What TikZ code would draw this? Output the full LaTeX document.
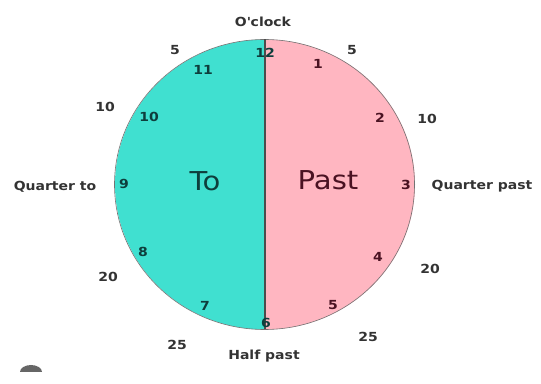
\documentclass[tikz,border=0pt]{standalone}
\usepackage{fontspec}
\setmainfont{DejaVu Sans}[FakeStretch=1.12]
\begin{document}
\begin{tikzpicture}[x=1pt,y=1pt,
  outer/.style={font=\bfseries\fontsize{12.5}{14}\selectfont, text=black!80},
  numL/.style={font=\bfseries\fontsize{12.5}{14}\selectfont, text=tealtext},
  numR/.style={font=\bfseries\fontsize{12.5}{14}\selectfont, text=pinktext},
  big/.style={font=\fontsize{26}{30}\selectfont}]
\definecolor{turq}{HTML}{40E0D0}
\definecolor{pinkfill}{HTML}{FFB6C1}
\definecolor{tealtext}{HTML}{0E3E3C}
\definecolor{pinktext}{HTML}{4A1222}
\useasboundingbox (0,0) rectangle (541,383);
\fill[white] (0,0) rectangle (541,383);
% halves
\coordinate (c) at (264.5,198.5);
\coordinate (top) at (265,343.5);
\coordinate (bot) at (265,53.5);
\fill[turq] (top) arc[start angle=90, end angle=270, x radius=150, y radius=145] -- cycle;
\fill[pinkfill] (top) arc[start angle=90, end angle=-90, x radius=150, y radius=145] -- cycle;
\draw[black!55, line width=0.6pt] (c) ellipse[x radius=150, y radius=145];
\draw[black!70, line width=1.4pt] (top) -- (bot);
% big words
\node[big, text=tealtext] (to) at (205,202) {To};
\node[big, text=pinktext] (past) at (328,203) {Past};
% inner numbers
\node[numL] (n12) at (265,330) {12};
\node[numR] (n1) at (318,319) {1};
\node[numR] (n2) at (380,265) {2};
\node[numR] (n3) at (406,198) {3};
\node[numR] (n4) at (378,126) {4};
\node[numR] (n5) at (333,78) {5};
\node[numL] (n6) at (266,60) {6};
\node[numL] (n7) at (205,77) {7};
\node[numL] (n8) at (143,131) {8};
\node[numL] (n9) at (124,199) {9};
\node[numL] (n10) at (149,266) {10};
\node[numL] (n11) at (203,313) {11};
% outer labels
\node[outer] (oclock) at (263,361) {O\textquotesingle clock};
\node[outer] (m5r) at (352,333) {5};
\node[outer] (m10r) at (427,264) {10};
\node[outer] (qpast) at (482,197) {Quarter past};
\node[outer] (m20r) at (430,114) {20};
\node[outer] (m25r) at (368,46) {25};
\node[outer] (half) at (264,27) {Half past};
\node[outer] (m25l) at (177,38) {25};
\node[outer] (m20l) at (108,106) {20};
\node[outer] (qto) at (55,196) {Quarter to};
\node[outer] (m10l) at (105,276) {10};
\node[outer] (m5l) at (175,333) {5};
% blob
\fill[black!60] (20,11) arc[start angle=180, end angle=0, x radius=11, y radius=7] -- cycle;
\end{tikzpicture}
\end{document}
